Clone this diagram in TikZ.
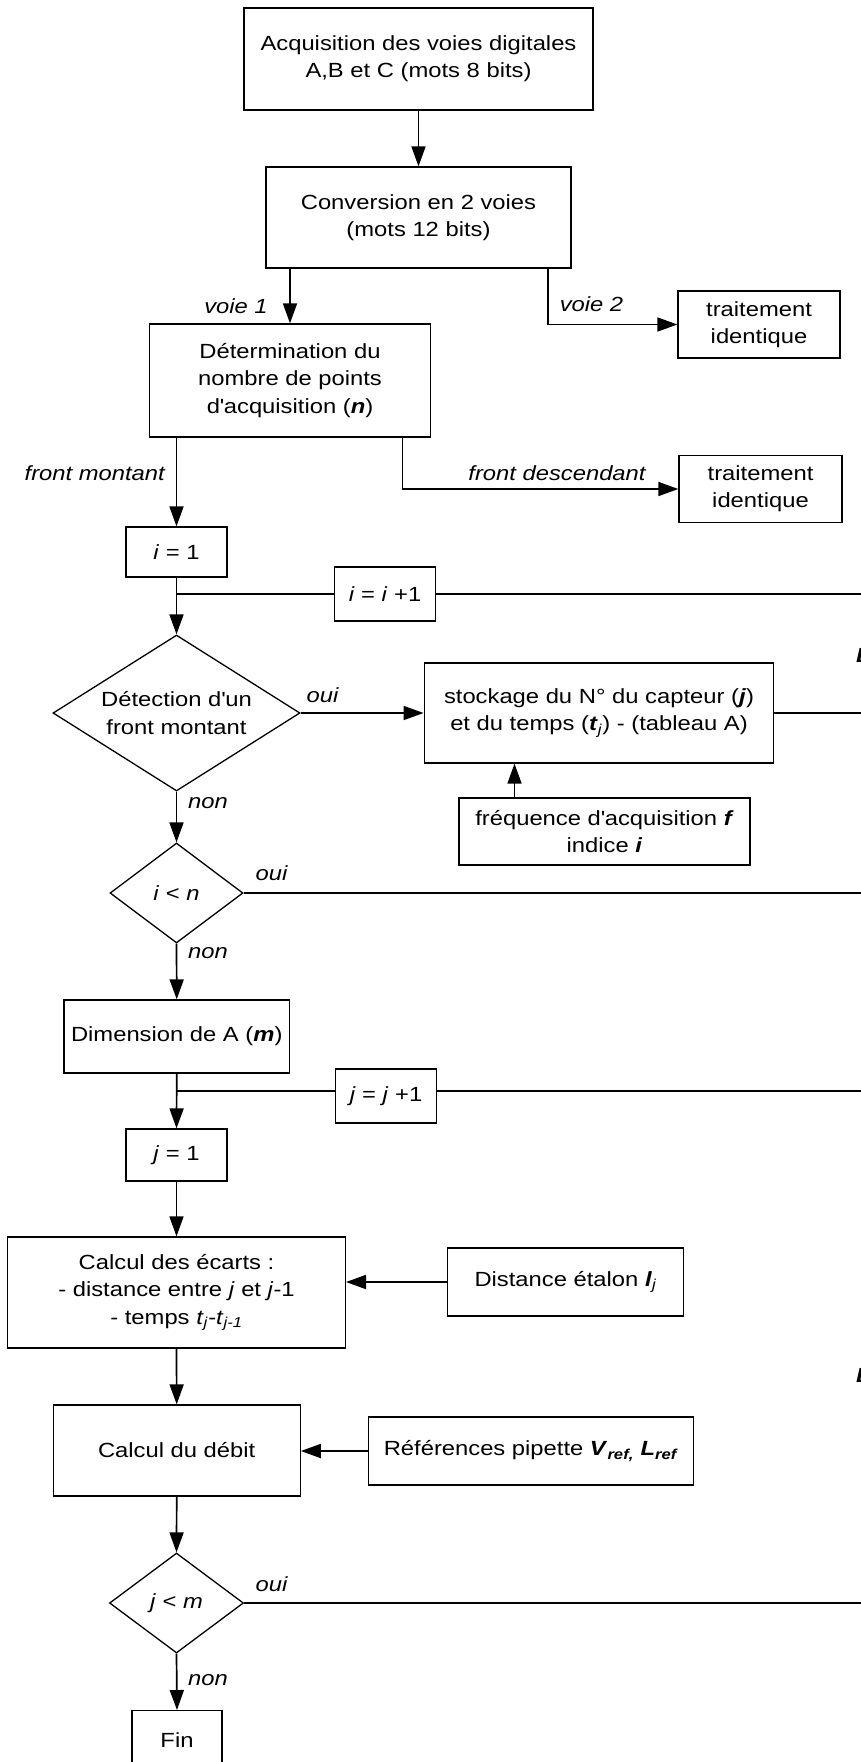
\documentclass[tikz,border=0pt]{standalone}
\usepackage{fontspec}
\setmainfont{Liberation Sans}[FakeStretch=1.16]
\usetikzlibrary{arrows.meta,shapes.geometric,calc}
\newcommand\apo{\textquotesingle}
\newcommand\bi[1]{\textbf{\textit{#1}}}
\begin{document}
\begin{tikzpicture}[x=1pt,y=-1pt,
  font=\fontsize{20.5}{27.3}\selectfont,
  box/.style={draw, rectangle, line width=1.3pt, inner sep=0pt, align=center},
  dia/.style={draw, diamond, line width=1.3pt, inner sep=0pt},
  arr/.style={line width=1.7pt, -{Triangle[length=20pt,width=14pt]}},
  ln/.style={line width=1.7pt},
  lab/.style={inner sep=0pt, font=\fontsize{20.5}{27.3}\selectfont\itshape},
  cut/.style={inner sep=0pt, anchor=base west, font=\fontsize{20.5}{27.3}\selectfont\bfseries\itshape}]
\useasboundingbox (0,0) rectangle (861,1762);
\clip (0,0) rectangle (861,1762);

% nodes
\node[box, minimum width=349pt, minimum height=102pt] (b1) at (418.5,59) {Acquisition des voies digitales\\A,B et C (mots 8 bits)};
\node[box, minimum width=305pt, minimum height=101pt] (b2) at (418.5,217.5) {Conversion en 2 voies\\(mots 12 bits)};
\node[box, minimum width=280.5pt, minimum height=113pt] (b3) at (290,380.5) {Détermination du\\nombre de points\\d\apo acquisition (\bi{n})};
\node[box, minimum width=162pt, minimum height=67pt] (t1) at (759,324.5) {traitement\\identique};
\node[box, minimum width=163pt, minimum height=67pt] (t2) at (760.5,489) {traitement\\identique};
\node[box, minimum width=101pt, minimum height=50pt] (i1) at (176.5,552) {\textit{i} = 1};
\node[box, minimum width=101pt, minimum height=54pt] (ii) at (385,594) {\textit{i} = \textit{i} +1};
\node[dia, minimum width=247pt, minimum height=156pt,
  label={[align=center, inner sep=0pt]center:Détection d\apo un\\front montant}] (d1) at (176.5,713) {};
\node[box, minimum width=349.5pt, minimum height=100pt] (st) at (599,713) {stockage du N° du capteur (\bi{j})\\et du temps (\bi{t}\textsubscript{\textit{j}}) - (tableau A)};
\node[box, minimum width=291pt, minimum height=67pt] (fr) at (604.5,831.5) {fréquence d\apo acquisition \bi{f}\\indice \bi{i}};
\node[dia, minimum width=133pt, minimum height=100pt,
  label={[inner sep=0pt]center:\textit{i} < \textit{n}}] (d2) at (176.5,893) {};
\node[box, minimum width=225.5pt, minimum height=73pt] (dm) at (176.75,1036.5) {Dimension de A (\bi{m})};
\node[box, minimum width=101pt, minimum height=54pt] (jj) at (386,1096) {\textit{j} = \textit{j} +1};
\node[box, minimum width=101pt, minimum height=52pt] (j1) at (176.5,1155) {\textit{j} = 1};
\node[box, minimum width=337.7pt, minimum height=111pt] (ca) at (176.5,1292.5) {Calcul des écarts :\\- distance entre \textit{j} et \textit{j}-1\\- temps \textit{t}\textsubscript{\textit{j}}-\textit{t}\textsubscript{\textit{j-1}}};
\node[box, minimum width=236pt, minimum height=68pt] (di) at (565.6,1282) {Distance étalon \bi{l}\textsubscript{\textit{j}}};
\node[box, minimum width=247pt, minimum height=91pt] (de) at (176.7,1450.5) {Calcul du débit};
\node[box, minimum width=325pt, minimum height=68pt] (rf) at (531,1451) {Références pipette \bi{V}\textsubscript{\bi{ref,}} \bi{L}\textsubscript{\bi{ref}}};
\node[dia, minimum width=134pt, minimum height=100pt,
  label={[inner sep=0pt]center:\textit{j} < \textit{m}}] (d3) at (176.5,1603) {};
\node[box, minimum width=90pt, minimum height=58pt, anchor=north] (fin) at (177,1710) {Fin};

% clipped glyphs at the right edge
\node[cut] (g1) at (856,662) {B};
\node[cut] (g2) at (856,1382) {B};

% free ends and helper points
\coordinate (r1) at (875,594);
\coordinate (r2) at (875,713);
\coordinate (r3) at (875,893);
\coordinate (r4) at (875,1091);
\coordinate (r5) at (875,1603);
\coordinate (ji) at (i1.south |- ii.west);
\coordinate (jj0) at (176.5,1091);
\coordinate (v2) at (548,267.5);
\coordinate (fd) at (402.5,437);
\coordinate (fa) at (514.5,798);

% connectors
\draw[arr] (b1.south) -- (b2.north);
\draw[arr] (b3.north |- b2.south) -- (b3.north);
\draw[arr] (v2) |- (t1.west);
\draw[arr] (i1.north |- b3.south) -- (i1.north);
\draw[arr] (fd) |- (t2.west);
\draw[arr] (i1.south) -- (d1.north);
\draw[ln] (ji) -- (ii.west);
\draw[ln] (ii.east) -- (r1);
\draw[arr] (d1.east) -- (st.west);
\draw[ln] (st.east) -- (r2);
\draw[arr] (fa) -- (fa |- st.south);
\draw[arr] (d1.south) -- (d2.north);
\draw[ln] (d2.east) -- (r3);
\draw[arr] (d2.south) -- (dm.north);
\draw[arr] (dm.south) -- (j1.north);
\draw[ln] (jj0) -- (jj0 -| jj.west);
\draw[ln] (jj0 -| jj.east) -- (r4);
\draw[arr] (j1.south) -- (ca.north);
\draw[arr] (di.west) -- (di.west -| ca.east);
\draw[arr] (ca.south) -- (de.north);
\draw[arr] (rf.west) -- (rf.west -| de.east);
\draw[arr] (de.south) -- (d3.north);
\draw[ln] (d3.east) -- (r5);
\draw[arr] (d3.south) -- (fin.north);

% labels
\node[lab] (lv1) at (236,306) {voie 1};
\node[lab] (lv2) at (591.5,304) {voie 2};
\node[lab] (lfm) at (94.7,473) {front montant};
\node[lab] (lfd) at (557,473) {front descendant};
\node[lab] (lo1) at (322.5,695) {oui};
\node[lab] (ln1) at (208,803) {non};
\node[lab] (lo2) at (271.5,873) {oui};
\node[lab] (ln2) at (208,953) {non};
\node[lab] (lo3) at (271.5,1584) {oui};
\node[lab] (ln3) at (208,1680) {non};
\end{tikzpicture}
\end{document}
